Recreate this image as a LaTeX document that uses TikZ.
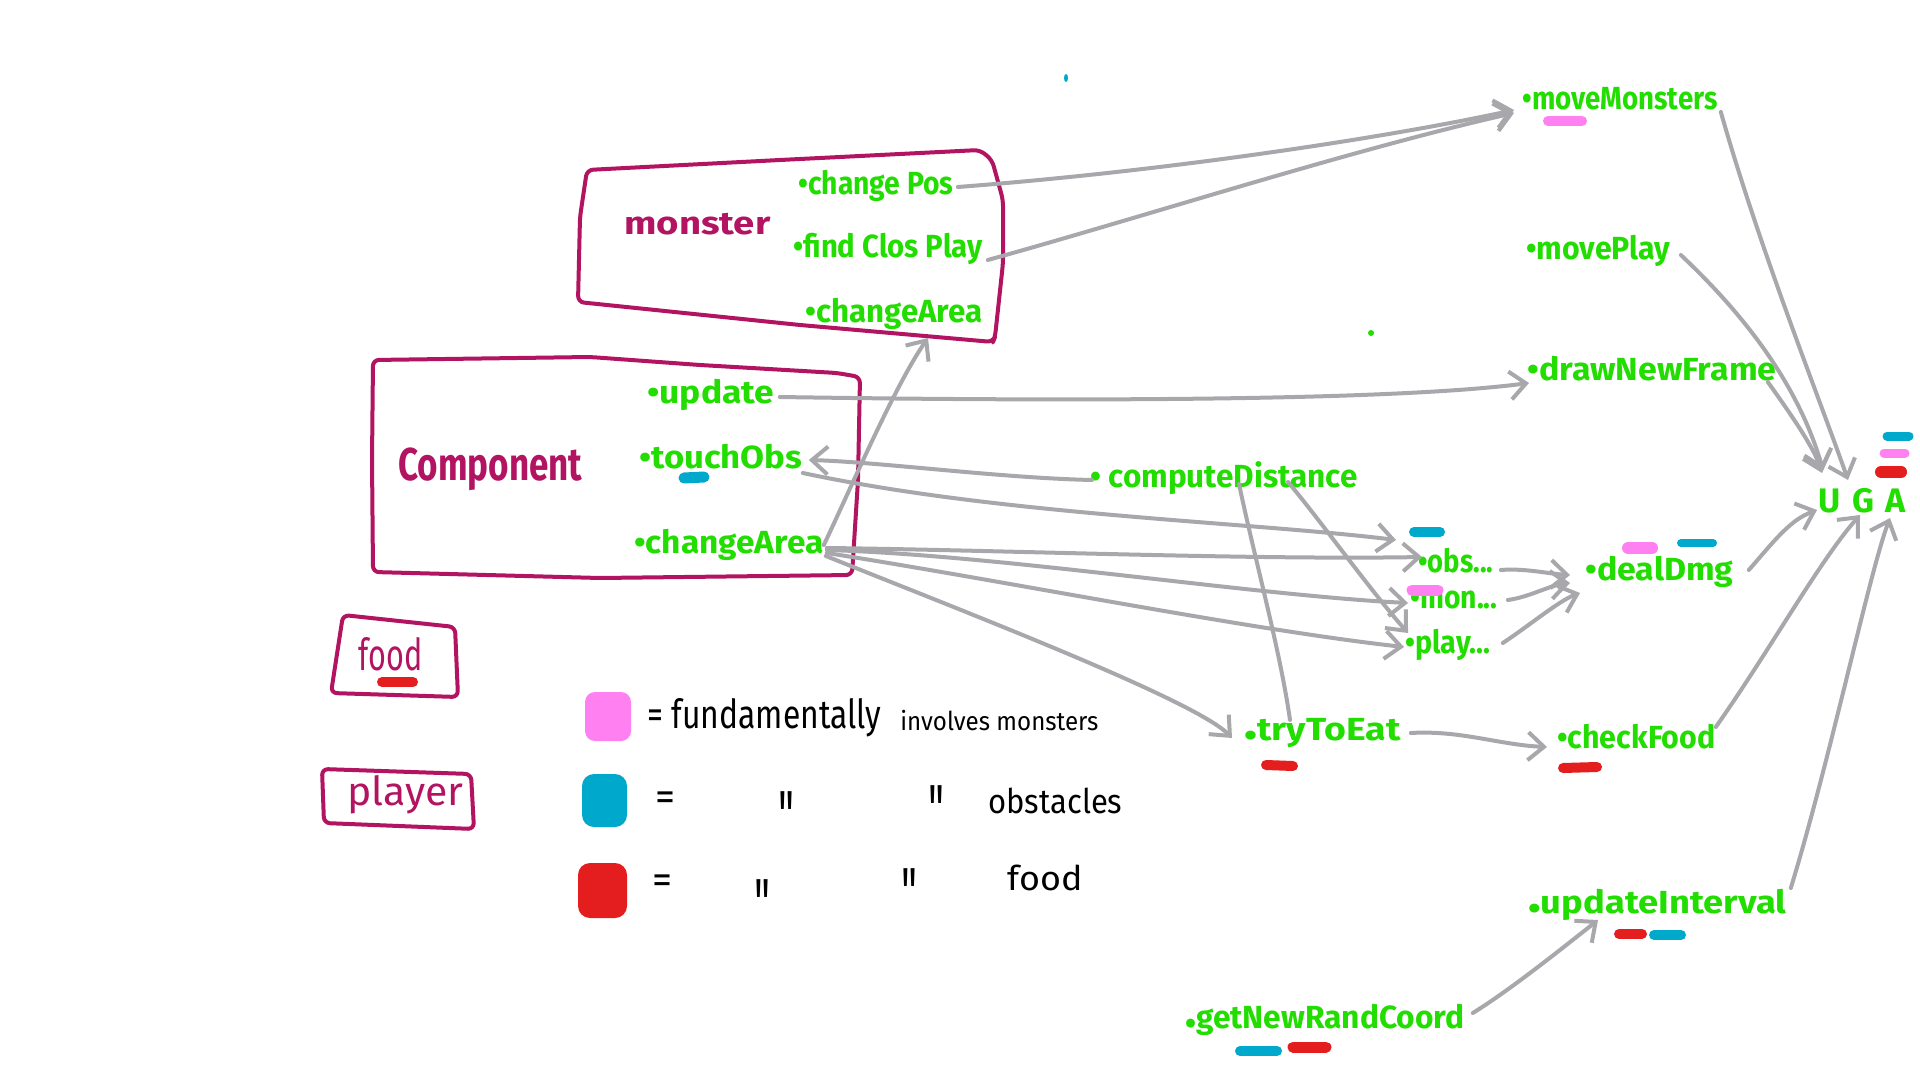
\documentclass[tikz,border=0pt]{standalone}
\usepackage{fontspec}
\setmainfont{Fira Sans}
\newfontfamily\rawfont{Fira Sans}
\usepackage{graphicx}
\usetikzlibrary{arrows.meta,calc}
\definecolor{grn}{RGB}{34,221,0}
\definecolor{mag}{RGB}{178,20,98}
\definecolor{gry}{RGB}{168,168,172}
\definecolor{pnk}{RGB}{255,128,240}
\definecolor{blu}{RGB}{0,168,204}
\definecolor{rd}{RGB}{228,30,30}
\newlength\hwlen
\newcommand\hw[2]{\settowidth\hwlen{#2}\pgfmathsetmacro\hwf{#1/2/\hwlen}\scalebox{\hwf}[1]{#2}}
\newcommand\ditto{\raisebox{-0.5em}{\scalebox{1}[1.7]{\rawfont "}}}
\tikzset{
  lbl/.style={text=grn, inner sep=0pt, anchor=base west, font=\bfseries\fontsize{16}{18}\selectfont},
  mlbl/.style={text=mag, inner sep=0pt, anchor=base west, font=\bfseries\fontsize{#1}{#1}\selectfont},
  blk/.style={text=black, inner sep=0pt, anchor=base west, font=\fontsize{#1}{#1}\selectfont},
  box/.style={draw=mag, line width=2pt, line join=round, line cap=round},
  conn/.style={draw=gry, line width=2pt, line cap=round, line join=round},
  arr/.style={conn, -{Straight Barb[length=8pt,width=14pt]}},
  blob/.style={line width={#1*0.5pt}, line cap=round},
}
\begin{document}
\begin{tikzpicture}[x=0.5pt,y=-0.5pt]
\fill[white] (0,0) rectangle (1920,1080);
\useasboundingbox (0,0) rectangle (1920,1080);

% ---------- boxes ----------
\draw[box, rounded corners=3pt] (587,170) -- (780,160) -- (980,150) -- (992,160) -- (1003,200) -- (1003,263) -- (995,337) -- (993,342) -- (800,325) -- (578,302) -- (580,217) -- cycle;
\draw[box, rounded corners=3pt] (373,360) -- (590,357) -- (700,365) -- (837,373) -- (860,377) -- (858,480) -- (852,575) -- (600,578) -- (373,572) -- (372,460) -- cycle;
\draw[box, rounded corners=3pt] (343,615) -- (455,627) -- (458,697) -- (331,693) -- cycle;
\draw[box, rounded corners=3pt] (322,769) -- (471,774) -- (474,829) -- (324,823) -- cycle;

% ---------- texts ----------
\node[mlbl=16] (mons) at (624,235) {\hw{146}{monster}};
\node[lbl] (cp) at (798,195) {\hw{155}{•change Pos}};
\node[lbl] (fcp) at (793,258) {\hw{189}{•find Clos Play}};
\node[lbl] (mca) at (805,323) {\hw{177}{•changeArea}};

\node[mlbl=23] (comp) at (398,480) {\hw{184}{Component}};
\node[lbl] (upd) at (647,403) {\hw{127}{•update}};
\node[lbl] (tob) at (639,468) {\hw{163}{•touchObs}};
\node[lbl] (cca) at (634,553) {\hw{189}{•changeArea}};

\node[mlbl=22, font=\mdseries\fontsize{22}{22}\selectfont] (food) at (358,670) {\hw{64}{food}};
\node[mlbl=20, font=\mdseries\fontsize{20}{20}\selectfont] (player) at (347,805) {\hw{116}{player}};

\node[lbl] (mm) at (1522,110) {\hw{195}{•moveMonsters}};
\node[lbl] (mp) at (1526,260) {\hw{144}{•movePlay}};
\node[lbl] (dnf) at (1527,380) {\hw{249}{•drawNewFrame}};
\node[lbl, font=\bfseries\fontsize{17}{17}\selectfont] (U) at (1818,512) {U};
\node[lbl, font=\bfseries\fontsize{17}{17}\selectfont] (G) at (1852,512) {G};
\node[lbl, font=\bfseries\fontsize{17}{17}\selectfont] (A) at (1885,512) {A};

\node[lbl] (cd) at (1090,487) {\hw{267}{• computeDistance}};
\node[lbl] (obs) at (1418,572) {\hw{75}{•obs...}};
\node[lbl] (mon) at (1410,608) {\hw{87}{•mon...}};
\node[lbl] (play) at (1405,653) {\hw{85}{•play...}};
\node[lbl] (dd) at (1585,580) {\hw{148}{•dealDmg}};
\node[lbl] (tte) at (1244,740) {\hw{156}{\raisebox{-0.2em}{•}tryToEat}};
\node[lbl] (cf) at (1557,748) {\hw{158}{•checkFood}};
\node[lbl] (ui) at (1528,913) {\hw{258}{\raisebox{-0.2em}{•}updateInterval}};
\node[lbl] (gnr) at (1185,1028) {\hw{279}{\raisebox{-0.2em}{•}getNewRandCoord}};

% ---------- legend ----------
\fill[pnk, rounded corners=5pt] (585,692) rectangle (631,741);
\fill[blu, rounded corners=6pt] (582,774) rectangle (627,827);
\fill[rd, rounded corners=6pt] (578,863) rectangle (627,918);
\node[blk=20] (l1) at (647,728) {\hw{234}{= fundamentally}};
\node[blk=13] (l1b) at (900,730) {\hw{198}{involves monsters}};
\node[blk=20] (l2e) at (655,810) {=};
\node[blk=20] (l2a) at (778,818) {\ditto};
\node[blk=20] (l2b) at (928,812) {\ditto};
\node[blk=17] (l2) at (988,813) {\hw{134}{obstacles}};
\node[blk=20] (l3e) at (652,893) {=};
\node[blk=20] (l3a) at (754,906) {\ditto};
\node[blk=20] (l3b) at (901,895) {\ditto};
\node[blk=17] (l3) at (1007,890) {\hw{75}{food}};

% ---------- colour marks ----------
\draw[blob=11, blu] (684,478) -- (704,477);
\draw[blob=10, pnk] (1548,121) -- (1582,121);
\draw[blob=9, blu] (1887,436) -- (1909,436);
\draw[blob=9, pnk] (1884,453) -- (1905,453);
\draw[blob=12, rd] (1881,472) -- (1901,472);
\draw[blob=10, blu] (1414,532) -- (1440,532);
\draw[blob=11, pnk] (1412,590) -- (1438,590);
\draw[blob=12, pnk] (1628,548) -- (1652,548);
\draw[blob=8, blu] (1681,543) -- (1713,543);
\draw[blob=10, rd] (1266,765) -- (1293,766);
\draw[blob=10, rd] (1563,768) -- (1597,767);
\draw[blob=10, rd] (1619,934) -- (1642,934);
\draw[blob=10, blu] (1654,935) -- (1681,935);
\draw[blob=10, blu] (1240,1051) -- (1277,1051);
\draw[blob=11, rd] (1293,1047) -- (1326,1047);
\draw[blob=10, rd] (382,682) -- (413,682);
\fill[blu] (1066,78) ellipse (2 and 4);
\fill[grn] (1371,333) circle (3);

% ---------- connectors ----------
\draw[arr] ($(cp.base east)+(4,-8)$) .. controls (1180,170) and (1400,135) .. ($(mm.base west)+(-8,0)$);
\draw[arr] ($(fcp.base east)+(5,2)$) .. controls (1150,215) and (1350,150) .. ($(mm.base west)+(-8,3)$);
\draw[arr] ($(upd.base east)+(5,-6)$) .. controls (1100,402) and (1400,400) .. ($(dnf.base west)+(2,3)$);
\draw[arr] ($(cd.base west)+(2,-7)$) .. controls (1000,478) and (880,462) .. ($(tob.base east)+(6,-8)$);
\draw[arr] ($(tob.base east)+(0,5)$) .. controls (1000,515) and (1250,522) .. ($(obs.base west)+(-22,-32)$);
\draw[arr] ($(cca.base east)+(0,-8)$) .. controls (850,490) and (895,385) .. ($(mca.base west)+(123,15)$);
\draw[arr] ($(cca.base east)+(3,-5)$) .. controls (1000,550) and (1250,560) .. ($(obs.base west)+(4,-15)$);
\draw[arr] ($(cca.base east)+(3,-3)$) .. controls (1000,555) and (1250,595) .. ($(mon.base west)+(-2,-5)$);
\draw[arr] ($(cca.base east)+(3,0)$) .. controls (1000,580) and (1250,630) .. ($(play.base west)+(-1,-6)$);
\draw[arr] ($(cca.base east)+(2,3)$) .. controls (960,610) and (1195,700) .. ($(tte.base west)+(-12,-2)$);
\draw[conn] ($(cd.base west)+(149,-3)$) .. controls (1255,560) and (1280,650) .. ($(tte.base west)+(46,-20)$);
\draw[arr] ($(cd.base west)+(198,-5)$) .. controls (1320,520) and (1370,590) .. ($(play.base west)+(3,-20)$);
\draw[arr] ($(obs.base east)+(7,-2)$) .. controls (1525,568) and (1550,574) .. ($(dd.base west)+(-15,-5)$);
\draw[arr] ($(mon.base east)+(10,-8)$) .. controls (1530,597) and (1550,585) .. ($(dd.base west)+(-15,3)$);
\draw[arr] ($(play.base east)+(12,-10)$) .. controls (1530,625) and (1560,600) .. ($(dd.base west)+(-5,13)$);
\draw[arr] ($(tte.base east)+(10,-7)$) .. controls (1460,730) and (1500,745) .. ($(cf.base west)+(-10,-1)$);
\draw[arr] ($(dd.base east)+(15,-10)$) .. controls (1775,540) and (1790,520) .. ($(U.base west)+(-1,-2)$);
\draw[arr] ($(cf.base east)+(0,-21)$) .. controls (1770,650) and (1820,560) .. ($(G.base west)+(8,3)$);
\draw[arr] ($(ui.base east)+(4,-25)$) .. controls (1830,760) and (1870,570) .. ($(A.base west)+(5,6)$);
\draw[arr] ($(gnr.base east)+(8,-15)$) .. controls (1510,990) and (1560,950) .. ($(ui.base west)+(70,7)$);
\draw[arr] ($(mm.base east)+(3,2)$) .. controls (1760,250) and (1820,400) .. ($(G.base west)+(-4,-32)$);
\draw[arr] ($(mp.base east)+(10,-5)$) .. controls (1750,320) and (1800,390) .. ($(U.base west)+(5,-42)$);
\draw[arr] ($(dnf.base east)+(-9,2)$) .. controls (1795,420) and (1815,450) .. ($(U.base west)+(4,-39)$);
\end{tikzpicture}
\end{document}
